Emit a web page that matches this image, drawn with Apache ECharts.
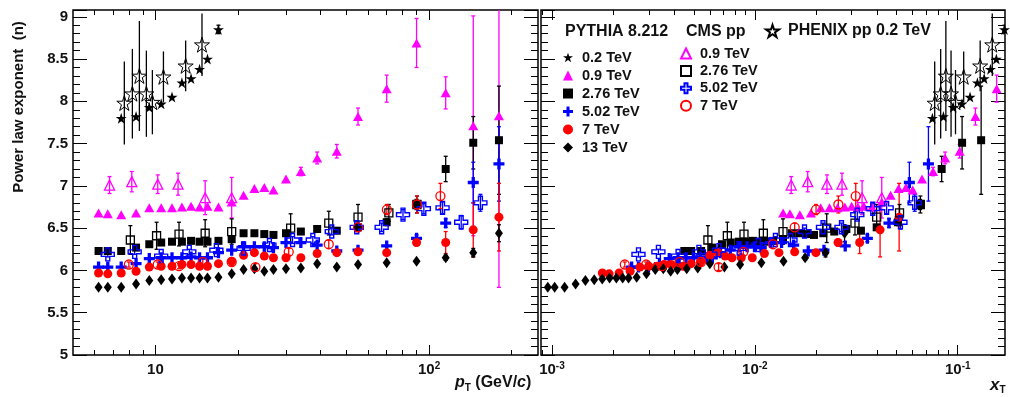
<!DOCTYPE html>
<html>
<head>
<meta charset="utf-8">
<script src="https://cdn.jsdelivr.net/npm/echarts@6/dist/echarts.min.js"></script>
<style>
html, body { margin: 0; padding: 0; background: #fff; }
#chart { width: 1010px; height: 397px; }
</style>
</head>
<body>
<div id="chart"></div>
<script>
// pT bins (GeV/c) shared by the PYTHIA curves
var pythiaPt = [6.2, 6.7, 7.5, 8.5, 9.5, 10.5, 11.5, 12.5, 13.5, 14.5, 15.5, 17, 19, 21, 23, 25, 27, 30, 34, 39, 46, 55, 70, 90, 115, 145, 180];
var pythia09N = [6.68, 6.67, 6.66, 6.68, 6.74, 6.74, 6.74, 6.75, 6.76, 6.75, 6.76, 6.75, 6.81, 6.89, 6.97, 6.98, 6.95, 7.08, 7.17, 7.33, 7.41, 7.82, 8.15, 8.69, 8.10, 7.71, 7.83];
var pythia09Err = [0, 0, 0, 0, 0, 0, 0, 0, 0, 0, 0, 0, 0, 0, 0, 0, 0, 0, 0.05, 0.07, 0.08, 0.10, 0.16, 0.29, 0.19, 1.30, 2.03];
var pythia276N = [6.23, 6.23, 6.23, 6.27, 6.31, 6.33, 6.34, 6.34, 6.35, 6.34, 6.34, 6.35, 6.37, 6.44, 6.44, 6.43, 6.42, 6.44, 6.46, 6.49, 6.47, 6.51, 6.57, 6.78, 7.20, 7.51, 7.54];
var pythia276Err = [0, 0, 0, 0, 0, 0, 0, 0, 0, 0, 0, 0, 0, 0, 0, 0, 0, 0, 0, 0, 0, 0, 0.04, 0.06, 0.15, 0.31, 0.64];
var pythia502N = [6.04, 6.04, 6.04, 6.08, 6.14, 6.15, 6.15, 6.15, 6.16, 6.15, 6.15, 6.21, 6.24, 6.28, 6.28, 6.28, 6.27, 6.33, 6.33, 6.30, 6.23, 6.24, 6.29, 6.38, 6.56, 7.04, 7.26];
var pythia502Err = [0, 0, 0, 0, 0, 0, 0, 0, 0, 0, 0, 0, 0, 0, 0, 0, 0, 0, 0, 0, 0, 0, 0, 0.04, 0.05, 0.24, 0.44];
var pythia7N = [5.97, 5.96, 5.97, 5.99, 6.04, 6.05, 6.05, 6.07, 6.07, 6.05, 6.05, 6.08, 6.11, 6.18, 6.21, 6.17, 6.15, 6.15, 6.15, 6.20, 6.21, 6.22, 6.21, 6.33, 6.33, 6.48, 6.63];
var pythia7Err = [0, 0, 0, 0, 0, 0, 0, 0, 0, 0, 0, 0, 0, 0, 0, 0, 0, 0, 0, 0, 0, 0, 0, 0.04, 0.13, 0.32, 0.40];
var pythia13N = [5.80, 5.80, 5.80, 5.84, 5.88, 5.89, 5.90, 5.91, 5.91, 5.91, 5.91, 5.92, 5.96, 6.01, 6.02, 5.99, 6.01, 6.02, 6.03, 6.08, 6.04, 6.07, 6.09, 6.11, 6.15, 6.21, 6.44];
var pythia13Err = [0, 0, 0, 0, 0, 0, 0, 0, 0, 0, 0, 0, 0, 0, 0, 0, 0, 0, 0, 0, 0, 0, 0, 0, 0.03, 0.05, 0.10];
var pythia02Pt = [7.5, 8.5, 9.5, 10.5, 11.5, 12.5, 13.5, 14.5, 15.5, 17];
var pythia02N = [7.80, 7.82, 7.93, 7.97, 8.05, 8.22, 8.27, 8.38, 8.50, 8.85];
var pythia02Err = [0, 0, 0, 0, 0, 0, 0, 0, 0, 0.05];

// CMS pp measurements
var cms09Pt = [6.8, 8.2, 10.2, 12.1, 15.2, 19.0];
var cms09N = [7.01, 7.05, 7.02, 7.02, 6.86, 6.86];
var cms09Err = [0.10, 0.12, 0.11, 0.13, 0.20, 0.24];
var cms276Pt = [8.1, 10.1, 12.2, 15.2, 19.0, 31.2, 43.0, 55.0, 71.3, 90.3];
var cms276N = [6.36, 6.41, 6.43, 6.44, 6.46, 6.50, 6.56, 6.63, 6.68, 6.78];
var cms276Err = [0.17, 0.16, 0.14, 0.16, 0.15, 0.17, 0.14, 0.15, 0.10, 0.10];
var cms502Pt = [6.7, 8.4, 10.5, 13.3, 16.7, 21.0, 26.1, 31.7, 37.6, 44.1, 54.4, 67.1, 80.3, 95.7, 112, 131, 154];
var cms502N = [6.19, 6.22, 6.17, 6.22, 6.24, 6.26, 6.30, 6.36, 6.36, 6.46, 6.51, 6.51, 6.66, 6.73, 6.74, 6.57, 6.80];
var cms502Err = [0.03, 0.03, 0.03, 0.03, 0.03, 0.03, 0.04, 0.04, 0.04, 0.04, 0.05, 0.05, 0.06, 0.06, 0.07, 0.08, 0.10];
var cms7Pt = [8.0, 10.2, 12.2, 14.9, 19.0, 23.2, 30.7, 43.0, 55.0, 70.1, 90.3, 110];
var cms7N = [6.07, 6.07, 6.05, 6.10, 6.10, 6.04, 6.22, 6.31, 6.51, 6.72, 6.78, 6.88];
var cms7Err = [0.03, 0.03, 0.03, 0.04, 0.04, 0.04, 0.04, 0.05, 0.05, 0.06, 0.10, 0.15];

// PHENIX pp 0.2 TeV
var phenixPt = [7.70, 8.24, 8.74, 9.27, 9.75, 10.7, 12.9, 14.8];
var phenixN = [7.98, 8.09, 8.30, 8.09, 7.99, 8.29, 8.42, 8.67];
var phenixErr = [0.49, 0.53, 0.65, 0.51, 0.38, 0.30, 0.30, 0.37];

// axis ticks
var ptMajor = [10, 100];
var ptMinor = [6, 7, 8, 9, 20, 30, 40, 50, 60, 70, 80, 90, 200];
var xtMajor = [0.001, 0.01, 0.1];
var xtMinor = [0.0009, 0.002, 0.003, 0.004, 0.005, 0.006, 0.007, 0.008, 0.009, 0.02, 0.03, 0.04, 0.05, 0.06, 0.07, 0.08, 0.09];

var FONT = 'Liberation Sans';
var STAR = 'path://M50 0L61.2 34.5L97.6 34.5L68.2 55.9L79.4 90.5L50 69.1L20.6 90.5L31.8 55.9L2.4 34.5L38.8 34.5Z';
var CROSS = 'path://M35 0H65V35H100V65H65V100H35V65H0V35H35Z';

var sets = [
    {name: 'PYTHIA 0.2 TeV', rts: 200, pt: pythia02Pt, n: pythia02N, err: pythia02Err, symbol: STAR, size: 11, color: '#000000', cap: 2},
    {name: 'PYTHIA 0.9 TeV', rts: 900, pt: pythiaPt, n: pythia09N, err: pythia09Err, symbol: 'triangle', size: [10, 9], color: '#ff00ff', cap: 2},
    {name: 'PYTHIA 2.76 TeV', rts: 2760, pt: pythiaPt, n: pythia276N, err: pythia276Err, symbol: 'rect', size: 8, color: '#000000', cap: 2},
    {name: 'PYTHIA 5.02 TeV', rts: 5020, pt: pythiaPt, n: pythia502N, err: pythia502Err, symbol: CROSS, size: 11, color: '#0000ff', cap: 2},
    {name: 'PYTHIA 7 TeV', rts: 7000, pt: pythiaPt, n: pythia7N, err: pythia7Err, symbol: 'circle', size: 9, color: '#ff0000', cap: 2},
    {name: 'PYTHIA 13 TeV', rts: 13000, pt: pythiaPt, n: pythia13N, err: pythia13Err, symbol: 'diamond', size: [8, 11], color: '#000000', cap: 2},
    {name: 'CMS 0.9 TeV', rts: 900, pt: cms09Pt, n: cms09N, err: cms09Err, symbol: 'triangle', size: [10, 10], color: '#ff00ff', open: true, line: 1.3, cap: 2},
    {name: 'CMS 2.76 TeV', rts: 2760, pt: cms276Pt, n: cms276N, err: cms276Err, symbol: 'rect', size: 8, color: '#000000', open: true, line: 1.3, cap: 2},
    {name: 'CMS 5.02 TeV', rts: 5020, pt: cms502Pt, n: cms502N, err: cms502Err, symbol: CROSS, size: 13, color: '#0000ff', open: true, line: 1.4, cap: 2},
    {name: 'CMS 7 TeV', rts: 7000, pt: cms7Pt, n: cms7N, err: cms7Err, symbol: 'circle', size: 9, color: '#ff0000', open: true, line: 1.3, cap: 2},
    {name: 'PHENIX pp 0.2 TeV', rts: 200, pt: phenixPt, n: phenixN, err: phenixErr, symbol: STAR, size: 15, color: '#000000', open: true, line: 1, cap: 0}
];

var chart = echarts.init(document.getElementById('chart'), null, {renderer: 'canvas'});

function errorBar(color, cap) {
    return function (params, api) {
        var x = api.value(0), y = api.value(1), e = api.value(2);
        if (!e) {
            return null;
        }
        var hi = api.coord([x, y + e]);
        var lo = api.coord([x, y - e]);
        var kids = [{type: 'line', shape: {x1: hi[0], y1: hi[1], x2: lo[0], y2: lo[1]}, style: {stroke: color, lineWidth: 1.3}}];
        if (cap) {
            kids.push({type: 'line', shape: {x1: hi[0] - cap, y1: hi[1], x2: hi[0] + cap, y2: hi[1]}, style: {stroke: color, lineWidth: 1.3}});
            kids.push({type: 'line', shape: {x1: lo[0] - cap, y1: lo[1], x2: lo[0] + cap, y2: lo[1]}, style: {stroke: color, lineWidth: 1.3}});
        }
        return {type: 'group', children: kids};
    };
}

var labelRich = {
    b: {fontSize: 15, fontWeight: 'bold', fontFamily: FONT, color: '#111', lineHeight: 18},
    s: {fontSize: 10, fontWeight: 'bold', fontFamily: FONT, color: '#111', lineHeight: 10, verticalAlign: 'top'}
};

function powLabel(v) {
    var p = Math.round(Math.log10(v));
    if (p === 1) {
        return '{b|10}';
    }
    return '{b|10}{s|' + p + '}';
}

// one log axis carrying either the long or the short ticks
function logAxis(grid, pos, min, max, ticks, len, withLabels) {
    return {
        type: 'log', logBase: 10, gridIndex: grid, position: pos, min: min, max: max,
        axisLine: {show: false, onZero: false},
        splitLine: {show: false},
        axisTick: {show: true, inside: true, length: len, customValues: ticks, lineStyle: {color: '#000', width: 1}},
        axisLabel: withLabels ? {
            show: true, customValues: ticks, formatter: powLabel, margin: 6, rich: labelRich
        } : {show: false}
    };
}

function valAxis(grid, pos, withLabels) {
    return {
        type: 'value', gridIndex: grid, position: pos, min: 5, max: 9.08, interval: 0.5,
        axisLine: {show: false, onZero: false},
        splitLine: {show: false},
        axisTick: {show: true, inside: true, length: 14, lineStyle: {color: '#000', width: 1}},
        minorTick: {show: true, splitNumber: 5, length: 7, lineStyle: {color: '#000', width: 1}},
        axisLabel: {
            show: withLabels, showMaxLabel: false, margin: 5,
            fontSize: 15, fontWeight: 'bold', fontFamily: FONT, color: '#111'
        }
    };
}

var ptMin = 5, ptMax = 250, xtMin = 0.000883, xtMax = 0.171;

var xAxes = [
    logAxis(0, 'bottom', ptMin, ptMax, ptMajor, 10, true),
    logAxis(0, 'bottom', ptMin, ptMax, ptMinor, 5, false),
    logAxis(0, 'top', ptMin, ptMax, ptMajor, 10, false),
    logAxis(0, 'top', ptMin, ptMax, ptMinor, 5, false),
    logAxis(1, 'bottom', xtMin, xtMax, xtMajor, 10, true),
    logAxis(1, 'bottom', xtMin, xtMax, xtMinor, 5, false),
    logAxis(1, 'top', xtMin, xtMax, xtMajor, 10, false),
    logAxis(1, 'top', xtMin, xtMax, xtMinor, 5, false)
];
var yAxes = [valAxis(0, 'left', true), valAxis(0, 'right', false), valAxis(1, 'left', false), valAxis(1, 'right', false)];

var panels = [
    {xi: 0, yi: 0, toX: function (pt, rts) { return pt; }},
    {xi: 4, yi: 2, toX: function (pt, rts) { return 2 * pt / rts; }}
];

var series = [];
panels.forEach(function (p) {
    sets.forEach(function (s) {
        var pts = s.pt.map(function (pt, i) {
            return [p.toX(pt, s.rts), s.n[i], s.err[i]];
        });
        series.push({
            type: 'custom', name: s.name + ' err', xAxisIndex: p.xi, yAxisIndex: p.yi,
            clip: true, silent: true, z: 1, encode: {x: 0, y: 1},
            renderItem: errorBar(s.color, s.cap), data: pts
        });
        series.push({
            type: 'scatter', name: s.name, xAxisIndex: p.xi, yAxisIndex: p.yi, z: 2,
            symbol: s.symbol, symbolSize: s.size,
            itemStyle: s.open ? {color: 'rgba(255,255,255,0)', borderColor: s.color, borderWidth: s.line, opacity: 1}
                              : {color: s.color, borderWidth: 0, opacity: 1},
            data: pts
        });
    });
});

function legendText(size) {
    return {fontSize: size, fontWeight: 'bold', fontFamily: FONT, color: '#111', lineHeight: 14, padding: [0, 0, 0, 4]};
}

option = {
    animation: false,
    backgroundColor: '#fff',
    grid: [
        {left: 73, top: 10, width: 465, height: 345, show: true, borderColor: '#000', borderWidth: 1.5},
        {left: 541, top: 10, width: 464, height: 345, show: true, borderColor: '#000', borderWidth: 1.5}
    ],
    xAxis: xAxes,
    yAxis: yAxes,
    title: [
        {text: 'PYTHIA 8.212', left: 565, top: 24, padding: 0, textStyle: {fontSize: 16, fontWeight: 'bold', fontFamily: FONT, color: '#111'}},
        {text: 'CMS pp', left: 686, top: 24, padding: 0, textStyle: {fontSize: 16, fontWeight: 'bold', fontFamily: FONT, color: '#111'}}
    ],
    legend: [
        {
            data: sets.slice(0, 6).map(function (s) { return s.name; }),
            orient: 'vertical', left: 563, top: 50, padding: 0, itemGap: 3, itemWidth: 10, itemHeight: 10,
            selectedMode: false, textStyle: legendText(14.5),
            formatter: function (name) { return name.replace('PYTHIA ', ''); }
        },
        {
            data: sets.slice(6, 10).map(function (s) { return s.name; }),
            orient: 'vertical', left: 680, top: 46, padding: 0, itemGap: 2.4, itemWidth: 10, itemHeight: 10,
            selectedMode: false, textStyle: legendText(14.5),
            formatter: function (name) { return name.replace('CMS ', ''); }
        },
        {
            data: ['PHENIX pp 0.2 TeV'],
            orient: 'vertical', left: 765, top: 23, padding: 0, itemWidth: 13, itemHeight: 13,
            selectedMode: false, textStyle: legendText(16)
        }
    ],
    graphic: [
        {
            type: 'text', x: 19, y: 107, rotation: Math.PI / 2,
            style: {text: 'Power law exponent  (n)', fontSize: 15, fontWeight: 'bold', fontFamily: FONT, fill: '#111', align: 'center', verticalAlign: 'middle'}
        },
        {
            type: 'text', x: 455, y: 383,
            style: {
                text: '{i|p}{s|T}{r| (GeV/}{i|c}{r|)}', verticalAlign: 'middle', fill: '#111',
                rich: {
                    i: {fontSize: 16, fontWeight: 'bold', fontStyle: 'italic', fontFamily: FONT, fill: '#111', lineHeight: 20},
                    r: {fontSize: 16, fontWeight: 'bold', fontFamily: FONT, fill: '#111', lineHeight: 20},
                    s: {fontSize: 10, fontWeight: 'bold', fontFamily: FONT, fill: '#111', lineHeight: 10, verticalAlign: 'bottom'}
                }
            }
        },
        {
            type: 'text', x: 990, y: 385,
            style: {
                text: '{i|x}{s|T}', verticalAlign: 'middle', fill: '#111',
                rich: {
                    i: {fontSize: 17, fontWeight: 'bold', fontStyle: 'italic', fontFamily: FONT, fill: '#111', lineHeight: 20},
                    s: {fontSize: 10, fontWeight: 'bold', fontFamily: FONT, fill: '#111', lineHeight: 10, verticalAlign: 'bottom'}
                }
            }
        }
    ],
    series: series
};

chart.setOption(option);
window.addEventListener('resize', chart.resize);
</script>
</body>
</html>
